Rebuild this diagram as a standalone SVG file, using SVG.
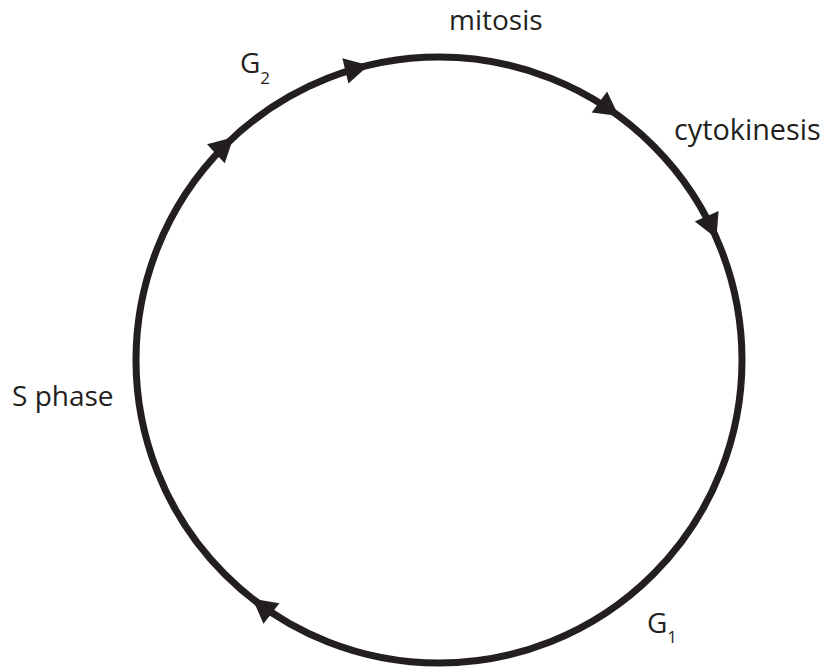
<svg xmlns="http://www.w3.org/2000/svg" width="826" height="671" viewBox="0 0 826 671">
<style>
.lbl{font-family:"Open Sans","Liberation Sans",sans-serif;font-size:28px;fill:#231f20}
.sub{font-size:17px}
.ring{fill:none;stroke:#231f20;stroke-width:7}
.ah{fill:#231f20}
</style>
<defs>
<polygon id="head" points="1,0 -23,-13 -23,13"/>
</defs>
<rect width="826" height="671" fill="#fff"/>
<g id="connectors">
<circle class="ring" cx="439" cy="360" r="303"/>
<use href="#head" class="ah" transform="translate(439,360) rotate(-132.9) translate(303,0) rotate(90)"/>
<use href="#head" class="ah" transform="translate(439,360) rotate(-103.6) translate(303,0) rotate(90)"/>
<use href="#head" class="ah" transform="translate(439,360) rotate(-53.8) translate(303,0) rotate(90)"/>
<use href="#head" class="ah" transform="translate(439,360) rotate(-23.9) translate(303,0) rotate(90)"/>
<use href="#head" class="ah" transform="translate(439,360) rotate(127.8) translate(303,0) rotate(90)"/>
</g>
<g id="mitosis"><text class="lbl" x="449" y="30">mitosis</text></g>
<g id="cytokinesis"><text class="lbl" x="674" y="140" style="font-size:28.8px">cytokinesis</text></g>
<g id="g1"><text class="lbl" x="647" y="633">G<tspan class="sub" dy="10">1</tspan></text></g>
<g id="sphase"><text class="lbl" x="12" y="406">S phase</text></g>
<g id="g2"><text class="lbl" x="240" y="73">G<tspan class="sub" dy="11">2</tspan></text></g>
</svg>
